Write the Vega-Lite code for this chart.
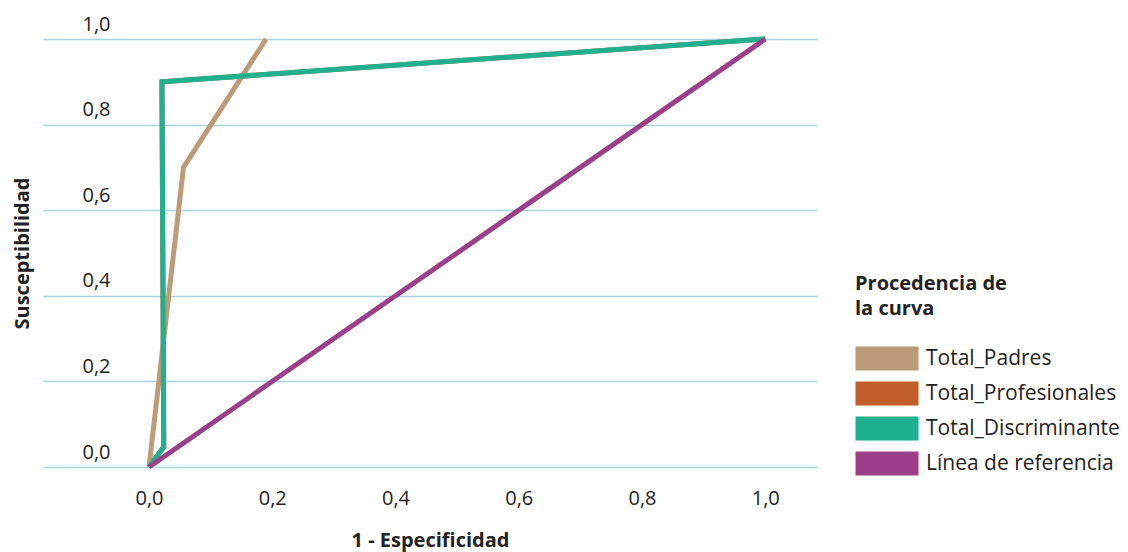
{
  "$schema": "https://vega.github.io/schema/vega-lite/v6.json",
  "width": 774,
  "height": 428,
  "autosize": {"type": "none"},
  "padding": {"left": 43, "top": 39, "right": 311, "bottom": 85},
  "config": {
    "view": {"stroke": null},
    "font": "Open Sans",
    "axis": {"labelColor": "#222222", "titleColor": "#222222"},
    "legend": {"labelColor": "#222222", "titleColor": "#222222"}
  },
  "data": {
    "values": [
      {"serie": "Total_Profesionales", "x": 0, "y": 0, "o": 0},
      {"serie": "Total_Profesionales", "x": 0.024, "y": 0.047, "o": 1},
      {"serie": "Total_Profesionales", "x": 0.021, "y": 0.9, "o": 2},
      {"serie": "Total_Profesionales", "x": 1, "y": 1, "o": 3},
      {"serie": "Total_Padres", "x": 0, "y": 0, "o": 0},
      {"serie": "Total_Padres", "x": 0.056, "y": 0.7, "o": 1},
      {"serie": "Total_Padres", "x": 0.19, "y": 1, "o": 2},
      {"serie": "Total_Discriminante", "x": 0, "y": 0, "o": 0},
      {"serie": "Total_Discriminante", "x": 0.024, "y": 0.047, "o": 1},
      {"serie": "Total_Discriminante", "x": 0.021, "y": 0.9, "o": 2},
      {"serie": "Total_Discriminante", "x": 1, "y": 1, "o": 3},
      {"serie": "Línea de referencia", "x": 0, "y": 0, "o": 0},
      {"serie": "Línea de referencia", "x": 1, "y": 1, "o": 1}
    ]
  },
  "mark": {"type": "line", "strokeWidth": 5, "strokeJoin": "miter", "strokeCap": "butt"},
  "encoding": {
    "x": {
      "field": "x", "type": "quantitative",
      "scale": {"domain": [-0.172, 1.084], "nice": false, "zero": false},
      "axis": {
        "values": [0, 0.2, 0.4, 0.6, 0.8, 1.0],
        "format": ".1f",
        "labelExpr": "replace(datum.label, '.', ',')",
        "grid": false, "domain": false, "ticks": false,
        "labelPadding": 31, "labelBaseline": "middle",
        "labelFontSize": 20,
        "title": "1 - Especificidad",
        "titleFontSize": 20, "titleFontWeight": "bold",
        "titleBaseline": "middle", "titleY": 73
      }
    },
    "y": {
      "field": "y", "type": "quantitative",
      "scale": {"domain": [0, 1], "nice": false},
      "axis": {
        "values": [0, 0.2, 0.4, 0.6, 0.8, 1.0],
        "format": ".1f",
        "labelExpr": "replace(datum.label, '.', ',')",
        "grid": true, "gridColor": "#a9d3db", "gridWidth": 1.5, "gridOpacity": 1,
        "domain": false, "ticks": false,
        "labelAlign": "right", "labelPadding": -67,
        "labelBaseline": "middle", "labelOffset": -15,
        "labelFontSize": 20, "labelBound": false, "labelOverlap": false,
        "title": "Susceptibilidad",
        "titleFontSize": 20, "titleFontWeight": "bold",
        "titleBaseline": "middle", "titleX": -21, "titleY": 214, "titleAngle": -90
      }
    },
    "color": {
      "field": "serie", "type": "nominal",
      "scale": {
        "domain": ["Total_Padres", "Total_Profesionales", "Total_Discriminante", "Línea de referencia"],
        "range": ["#bd9b78", "#c25e27", "#1fb08f", "#9c3f8a"]
      },
      "legend": {
        "title": ["Procedencia de", "la curva"],
        "titleFontSize": 20, "titleFontWeight": "bold", "titleLineHeight": 25,
        "titlePadding": 29,
        "labelFontSize": 21, "labelOffset": 50, "labelLimit": 0,
        "symbolType": "M-1,-1.2H5.3V1.2H-1Z", "symbolSize": 400, "symbolStrokeWidth": 0,
        "rowPadding": 10,
        "padding": 0,
        "orient": "none", "legendX": 812, "legendY": 235,
        "encode": {"symbols": {"update": {
          "fill": {"scale": "color", "field": "value"},
          "fillOpacity": {"value": 1},
          "opacity": {"value": 1},
          "stroke": {"value": "transparent"},
          "strokeWidth": {"value": 0}
        }}}
      }
    },
    "detail": {"field": "serie"},
    "order": {"field": "o", "type": "quantitative"}
  }
}
